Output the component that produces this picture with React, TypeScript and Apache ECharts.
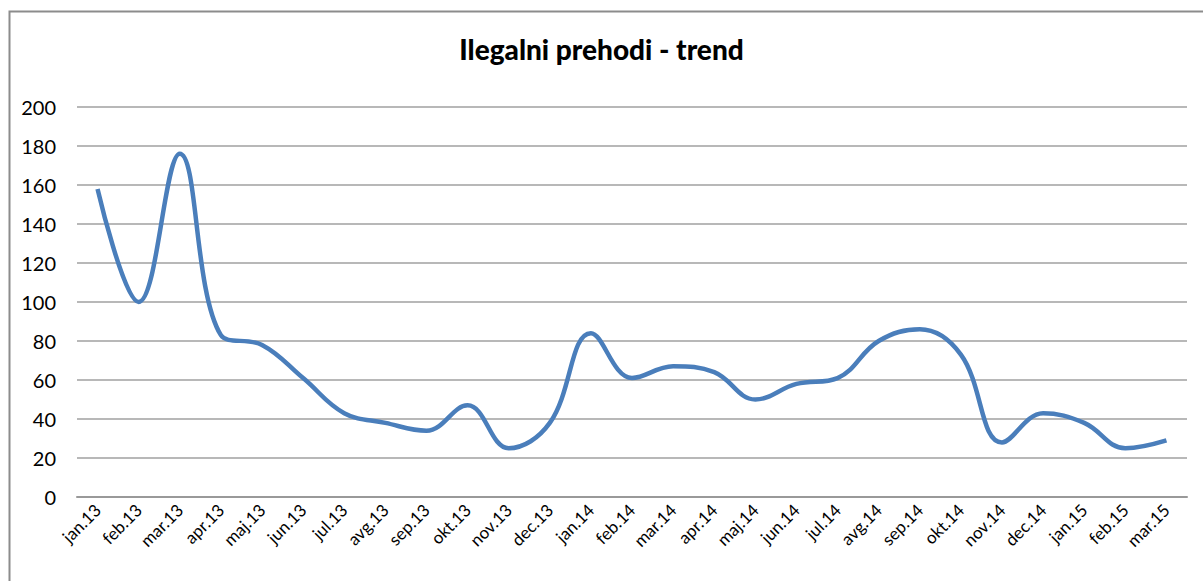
import React, { useEffect, useRef } from "react";
import * as echarts from "echarts";

const categories = [
  "jan.13", "feb.13", "mar.13", "apr.13", "maj.13", "jun.13", "jul.13", "avg.13", "sep.13",
  "okt.13", "nov.13", "dec.13", "jan.14", "feb.14", "mar.14", "apr.14", "maj.14", "jun.14",
  "jul.14", "avg.14", "sep.14", "okt.14", "nov.14", "dec.14", "jan.15", "feb.15", "mar.15",
];
const values = [
  158, 100, 176, 83, 78, 61, 43, 38, 34,
  47, 25, 38, 84, 61, 67, 64, 50, 58,
  61, 80, 86, 73, 28, 43, 38, 25, 29,
];
const titleText = "Ilegalni prehodi - trend";
const FONT = "Lato, 'Open Sans', sans-serif";

export default function App() {
  const ref = useRef<HTMLDivElement>(null);
  useEffect(() => {
    document.body.style.margin = "0";
    const chart = echarts.init(ref.current!, null, { renderer: "svg" });
    chart.setOption({
      animation: false,
      backgroundColor: "#ffffff",
      title: {
        text: titleText,
        left: "center",
        top: 30,
        textStyle: { fontFamily: FONT, fontWeight: 900, fontSize: 28, color: "#000" },
      },
      graphic: [
        {
          type: "polyline",
          shape: { points: [[9.5, 600], [9.5, 11.5], [1220, 11.5]] },
          style: { stroke: "#8c8c8c", lineWidth: 2, fill: null },
          silent: true,
        },
      ],
      grid: { left: 77, right: 16, top: 107, bottom: 84, containLabel: false },
      xAxis: {
        type: "category",
        data: categories,
        boundaryGap: true,
        axisLine: { show: true, lineStyle: { color: "#999", width: 2 } },
        axisTick: { show: false },
        axisLabel: {
          rotate: 45,
          interval: 0,
          margin: 10,
          fontFamily: FONT,
          fontSize: 17,
          color: "#000",
        },
      },
      yAxis: {
        type: "value",
        min: 0,
        max: 200,
        interval: 20,
        axisLine: { show: false },
        axisTick: { show: false },
        axisLabel: { fontFamily: FONT, fontSize: 20, color: "#000", margin: 21 },
        splitLine: { lineStyle: { color: "#a0a0a0", width: 1.5 } },
      },
      series: [
        {
          type: "line",
          data: values,
          smooth: 0.4,
          symbol: "none",
          lineStyle: { color: "#4a7ebb", width: 4.5 },
        },
      ],
    });
    return () => chart.dispose();
  }, []);
  return <div ref={ref} style={{ width: 1203, height: 581 }} />;
}
